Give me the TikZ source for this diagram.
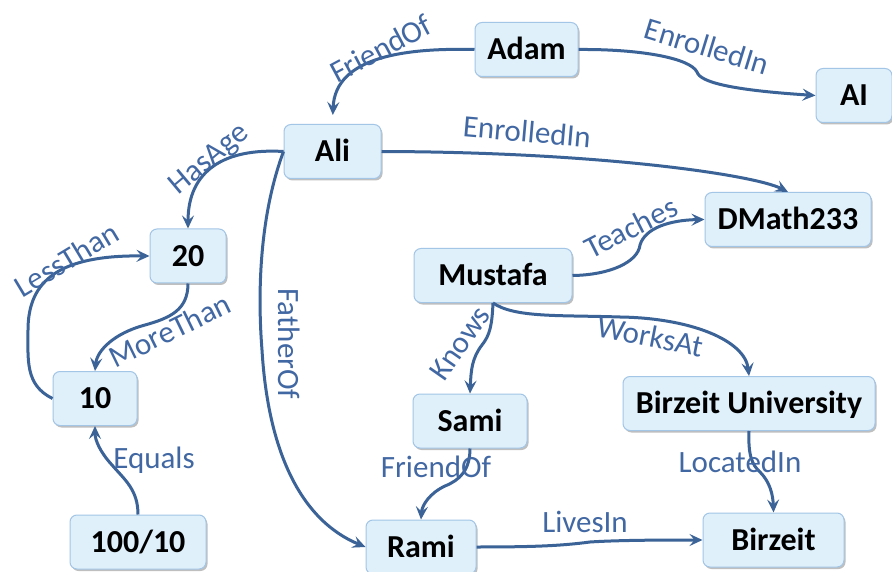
\documentclass[tikz,border=0pt]{standalone}
\usepackage{fontspec}
\setmainfont{Carlito}
\usetikzlibrary{arrows.meta,shadows}

\definecolor{edgeblue}{HTML}{3B6397}
\definecolor{labelblue}{HTML}{4268A3}
\definecolor{boxfill}{HTML}{DFF0FB}
\definecolor{boxline}{HTML}{A3C5E6}

\tikzset{
  entity/.style={draw=boxline, line width=1pt, fill=boxfill, rounded corners=7pt,
    minimum height=54pt, inner sep=0pt, align=center,
    font=\fontsize{32}{35}\selectfont\bfseries, text=black,
    text height=20.5pt, text depth=0pt,
    drop shadow={shadow xshift=1.5pt, shadow yshift=-2pt, fill=black, opacity=0.25}},
  rel/.style={draw=edgeblue, line width=3pt,
    -{Stealth[length=13pt,width=12pt,inset=5pt]}},
  lbl/.style={inner sep=0pt, text=labelblue,
    font=\fontsize{31}{34}\selectfont, text height=20pt, text depth=0pt}
}

\begin{document}
\begin{tikzpicture}[x=1pt,y=-1pt]
\useasboundingbox (0,0) rectangle (892,572);
\fill[white] (0,0) rectangle (892,572);

% entities
\node[entity, minimum width=103pt] (adam)     at (526.5,49.5) {Adam};
\node[entity, minimum width=76pt]  (ai)       at (854,95.5)   {AI};
\node[entity, minimum width=97pt]  (ali)      at (332.5,151.5){Ali};
\node[entity, minimum width=166pt] (dmath)    at (788,219.5)  {DMath233};
\node[entity, minimum width=158pt] (mustafa)  at (493,275.5)  {Mustafa};
\node[entity, minimum width=76pt]  (n20)      at (188,256)    {20};
\node[entity, minimum width=84pt]  (n10)      at (95,398.5)   {10};
\node[entity, minimum width=136pt] (n100)     at (138,542)    {100/10};
\node[entity, minimum width=114pt] (sami)     at (470,421)    {Sami};
\node[entity, minimum width=252pt] (bzu)      at (749,403.5)  {Birzeit University};
\node[entity, minimum width=110pt] (rami)     at (421,547)    {Rami};
\node[entity, minimum width=141pt] (birzeit)  at (773.5,540)  {Birzeit};

% relations
\draw[rel, shorten >=9pt] (adam.west) .. controls (410,48) and (335,55) .. (ali.north);
\draw[rel] (adam.east) .. controls (640,49) and (690,58) .. (697,72)
                       .. controls (700,82) and (730,90) .. (ai.west);
\draw[rel] (ali.east) .. controls (600,152) and (755,175) .. (dmath.north);
\draw[rel] (ali.west) .. controls (225,148) and (188,170) .. (n20.north);
\draw[rel] (ali.west) .. controls (258,220) and (258,300) .. (262,350)
                      .. controls (268,450) and (300,520) .. (rami.west);
\draw[rel] (n20.south) .. controls (188,310) and (170,318) .. (145,325)
                       .. controls (115,333) and (97,350) .. (n10.north);
\draw[rel] (n10.west) .. controls (25,385) and (28,360) .. (28,330)
                      .. controls (28,280) and (60,255) .. (n20.west);
\draw[rel] (n100.north) .. controls (138,490) and (125,480) .. (112,465)
                        .. controls (100,452) and (95,440) .. (n10.south);
\draw[rel] (mustafa.east) .. controls (610,275) and (638,262) .. (640,245)
                          .. controls (645,228) and (670,220) .. (dmath.west);
\draw[rel] (mustafa.south) .. controls (492,325) and (490,335) .. (482,345)
                           .. controls (472,358) and (471,370) .. (sami.north);
\draw[rel] (mustafa.south) .. controls (515,318) and (560,315) .. (620,317)
                           .. controls (690,318) and (745,340) .. (bzu.north);
\draw[rel] (bzu.south) .. controls (748,455) and (752,465) .. (760,472)
                       .. controls (770,482) and (773,495) .. (birzeit.north);
\draw[rel] (sami.south) .. controls (470,470) and (460,480) .. (445,486)
                        .. controls (430,493) and (422,505) .. (rami.north);
\draw[rel] (rami.east) .. controls (530,547) and (560,546) .. (590,542)
                       .. controls (620,540) and (670,540) .. (birzeit.west);

% relation labels
\node[lbl, rotate=28]  (lfriendA)  at (381,49)   {FriendOf};
\node[lbl, rotate=-17] (lenrollA)  at (707,47)   {EnrolledIn};
\node[lbl, rotate=-5]  (lenrollB)  at (527,132)  {EnrolledIn};
\node[lbl, rotate=40]  (lage)      at (208,158)  {HasAge};
\node[lbl, rotate=-90] (lfather)   at (288,344)  {FatherOf};
\node[lbl, rotate=31]  (lless)     at (67,260)   {LessThan};
\node[lbl, rotate=26]  (lmore)     at (170,331)  {MoreThan};
\node[lbl]             (lequals)   at (154,458)  {Equals};
\node[lbl, rotate=27]  (lteaches)  at (631,228)  {Teaches};
\node[lbl, rotate=55]  (lknows)    at (460,343)  {Knows};
\node[lbl, rotate=-11] (lworks)    at (650,337)  {WorksAt};
\node[lbl]             (lfriendB)  at (436,467)  {FriendOf};
\node[lbl]             (llocated)  at (740,462)  {LocatedIn};
\node[lbl]             (llives)    at (585,522)  {LivesIn};
\end{tikzpicture}
\end{document}
